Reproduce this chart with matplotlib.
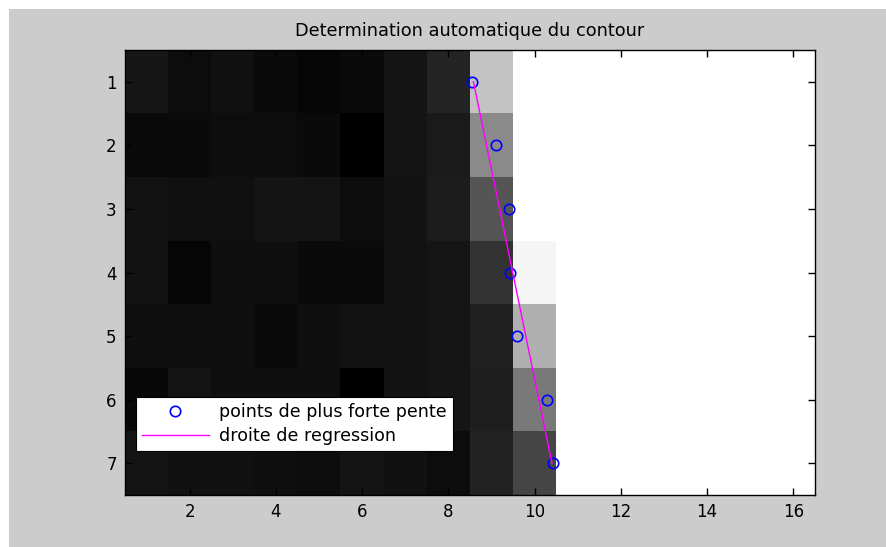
import numpy as np
import matplotlib
matplotlib.use("Agg")
import matplotlib.pyplot as plt
from matplotlib.patches import Rectangle

# grey levels (0-255) of the 7x16 image, rows top to bottom
img_rows = [
    [0x16, 0x0c, 0x11, 0x0a, 0x06, 0x0a, 0x14, 0x25, 0xc3, 255, 255, 255, 255, 255, 255, 255],
    [0x0a, 0x0a, 0x0d, 0x0d, 0x0a, 0x00, 0x14, 0x1a, 0x8a, 255, 255, 255, 255, 255, 255, 255],
    [0x12, 0x10, 0x10, 0x14, 0x14, 0x0d, 0x12, 0x1c, 0x55, 255, 255, 255, 255, 255, 255, 255],
    [0x12, 0x05, 0x0f, 0x0f, 0x0a, 0x0a, 0x12, 0x15, 0x33, 0xf5, 255, 255, 255, 255, 255, 255],
    [0x0f, 0x0f, 0x0f, 0x0a, 0x0f, 0x12, 0x12, 0x15, 0x20, 0xb0, 255, 255, 255, 255, 255, 255],
    [0x08, 0x14, 0x0f, 0x0f, 0x0f, 0x00, 0x12, 0x15, 0x1e, 0x7a, 255, 255, 255, 255, 255, 255],
    [0x14, 0x11, 0x11, 0x0f, 0x0d, 0x14, 0x11, 0x0c, 0x22, 0x45, 255, 255, 255, 255, 255, 255],
]

# steepest-slope points (column, row)
pts_x = [8.55, 9.10, 9.40, 9.43, 9.58, 10.28, 10.42]
pts_y = [1, 2, 3, 4, 5, 6, 7]

# regression line end points
reg_x = [8.58, 10.40]
reg_y = [1, 7]

title = "Determination automatique du contour"
xticks = [2, 4, 6, 8, 10, 12, 14, 16]
yticks = [1, 2, 3, 4, 5, 6, 7]

plt.rcParams["font.family"] = ["DejaVu Sans"]

W, H = 887, 547
fig = plt.figure(figsize=(W / 100, H / 100), dpi=100, facecolor="white")
# grey figure area (thin white strip top and left)
fig.patches.append(Rectangle((9 / W, 0), 1, (H - 9) / H, transform=fig.transFigure,
                             facecolor="#cccccc", edgecolor="none", zorder=-10))

ax = fig.add_axes([125 / W, (H - 495) / H, 690 / W, 445 / H])
ax.imshow(np.array(img_rows), cmap="gray", vmin=0, vmax=255,
          interpolation="nearest", aspect="auto",
          extent=(0.5, 16.5, 7.5, 0.5))

ax.plot(pts_x, pts_y, "o", mfc="none", mec="#0000ff", ms=7.5, mew=1.2,
        label="points de plus forte pente")
ax.plot(reg_x, reg_y, "-", color="#ff00ff", lw=1.0, label="droite de regression")

ax.set_xlim(0.5, 16.5)
ax.set_ylim(7.5, 0.5)
ax.set_xticks(xticks)
ax.set_yticks(yticks)
ax.tick_params(direction="in", length=5, width=1, top=True, right=True,
               labelsize=12, pad=6, colors="black")
for s in ax.spines.values():
    s.set_linewidth(1)

ax.set_title(title, fontsize=12.8, pad=10)

leg = ax.legend(loc="lower left", bbox_to_anchor=(0.016, 0.099), borderaxespad=0,
                fontsize=12.6, handlelength=3.8, handletextpad=0.6,
                labelspacing=0.35, borderpad=0.35, fancybox=False,
                framealpha=1, edgecolor="black")
leg.get_frame().set_linewidth(0.8)

fig.savefig("out.png", dpi=100, facecolor=fig.get_facecolor())
